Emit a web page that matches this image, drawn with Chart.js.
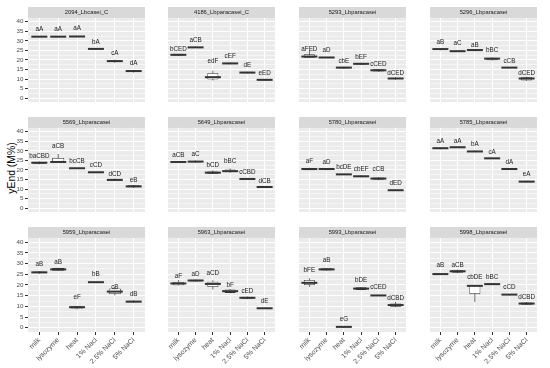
<!DOCTYPE html>
<html>
<head>
<meta charset="utf-8">
<script src="https://cdn.jsdelivr.net/npm/chart.js@4"></script>
<style>
  body { margin: 0; background: #fff; }
  #wrap { position: relative; width: 550px; height: 368px; overflow: hidden; }
  #wrap canvas { position: absolute; }
  #ytitle {
    position: absolute; left: 11px; top: 168px;
    transform: translate(-50%, -50%) rotate(-90deg);
    font: 10.4px "Liberation Sans", Arial, sans-serif; color: #000; white-space: nowrap;
  }
</style>
</head>
<body>
<div id="wrap"><div id="ytitle">yEnd (M%)</div></div>
<script>
// --- data ---
const categories = ["milk", "lysozyme", "heat", "1% Nacl", "2.5% NaCl", "5% NaCl"];
const yTicks = [0, 2.5, 5, 7.5, 10, 12.5, 15, 17.5, 20, 22.5, 25, 27.5, 30, 32.5, 35, 37.5, 40];

const panelNames = [
  "2094_Lbcasei_C", "4186_Lbparacasei_C", "5293_Lbparacasei", "5296_Lbparacasei",
  "5569_Lbparacasei", "5649_Lbparacasei", "5780_Lbparacasei", "5785_Lbparacasei",
  "5959_Lbparacasei", "5963_Lbparacasei", "5993_Lbparacasei", "5998_Lbparacasei"
];

const lows = [
  [31.9, 31.9, 31.9, 25.5, 18.6, 13.4],
  [22.0, 26.3, 9.2, 17.7, 12.9, 9.2],
  [21.0, 21.0, 15.4, 17.4, 13.8, 9.7],
  [25.1, 24.3, 24.6, 19.7, 15.7, 9.1],
  [23.0, 23.6, 20.6, 18.5, 14.3, 10.6],
  [23.9, 23.8, 17.9, 18.6, 15.0, 10.8],
  [19.8, 19.9, 17.4, 16.1, 14.6, 9.0],
  [30.9, 31.5, 29.3, 25.8, 20.2, 13.5],
  [25.3, 26.5, 8.6, 21.0, 15.2, 11.7],
  [19.7, 21.5, 17.9, 16.1, 13.3, 8.8],
  [19.1, 26.6, 0.1, 17.5, 14.8, 9.6],
  [24.8, 25.5, 12.0, 20.0, 15.2, 10.6]
];
const q1s = [
  [32.0, 32.0, 32.0, 25.6, 18.9, 13.7],
  [22.3, 26.4, 9.8, 17.9, 13.1, 9.3],
  [21.2, 21.1, 15.6, 17.6, 14.0, 10.0],
  [25.3, 24.4, 24.8, 19.9, 15.8, 9.3],
  [23.2, 23.8, 20.7, 18.6, 14.5, 10.9],
  [24.0, 23.9, 18.0, 18.8, 15.1, 10.9],
  [19.9, 20.0, 17.5, 16.3, 14.9, 9.1],
  [31.0, 31.6, 29.4, 25.9, 20.3, 13.6],
  [25.5, 26.7, 9.0, 21.1, 15.8, 11.9],
  [19.9, 21.6, 19.0, 16.3, 13.5, 8.9],
  [20.0, 26.8, 0.2, 17.7, 14.9, 9.8],
  [24.9, 25.7, 15.7, 20.1, 15.3, 10.8]
];
const medians = [
  [32.2, 32.2, 32.3, 25.8, 19.4, 14.2],
  [22.7, 26.6, 11.0, 18.2, 13.4, 9.6],
  [21.8, 21.3, 16.0, 18.0, 14.6, 10.3],
  [25.7, 24.6, 25.2, 20.7, 16.0, 10.3],
  [23.8, 24.2, 20.9, 18.8, 14.8, 11.4],
  [24.2, 24.4, 18.6, 19.4, 15.3, 11.1],
  [20.5, 20.5, 17.7, 16.7, 15.5, 9.4],
  [31.4, 31.9, 29.7, 26.1, 20.5, 13.9],
  [25.9, 27.3, 9.6, 21.3, 16.9, 12.2],
  [20.7, 22.1, 20.5, 17.1, 14.0, 9.1],
  [21.0, 27.3, 0.4, 18.3, 15.1, 10.6],
  [25.1, 26.4, 19.6, 20.4, 15.5, 11.3]
];
const q3s = [
  [32.4, 32.4, 32.6, 26.0, 19.9, 14.5],
  [23.2, 26.8, 13.2, 18.6, 13.8, 9.9],
  [23.0, 21.5, 16.5, 18.4, 15.1, 10.7],
  [26.0, 24.8, 25.5, 21.2, 16.2, 11.0],
  [24.2, 26.3, 21.1, 19.0, 15.3, 12.0],
  [24.4, 24.7, 19.2, 20.3, 15.5, 11.3],
  [21.0, 21.0, 17.9, 17.0, 16.0, 9.7],
  [31.7, 32.2, 30.0, 26.3, 20.7, 14.2],
  [26.3, 27.9, 10.0, 21.5, 18.4, 12.6],
  [21.4, 22.5, 21.5, 17.9, 14.5, 9.3],
  [22.3, 27.8, 0.6, 18.9, 15.3, 11.3],
  [25.3, 27.0, 19.9, 20.7, 15.7, 11.8]
];
const highs = [
  [32.5, 32.5, 32.7, 26.1, 20.1, 14.7],
  [23.3, 26.9, 14.3, 18.8, 13.9, 10.0],
  [24.8, 21.6, 16.6, 18.5, 15.3, 10.9],
  [26.1, 24.9, 25.7, 21.4, 16.3, 11.2],
  [24.4, 28.4, 21.2, 19.1, 15.5, 12.2],
  [24.5, 24.9, 19.9, 20.8, 15.6, 11.4],
  [21.2, 21.1, 18.0, 17.2, 16.3, 9.8],
  [31.8, 32.3, 30.1, 26.4, 20.8, 14.3],
  [26.4, 28.1, 10.2, 21.6, 19.1, 12.8],
  [22.3, 22.6, 22.2, 18.1, 14.6, 9.4],
  [23.2, 28.0, 0.7, 19.1, 15.4, 12.2],
  [25.4, 27.2, 20.0, 20.8, 15.8, 12.0]
];

// letter groups and the y value where each one sits
const letters = [
  ["aA", "aA", "aA", "bA", "cA", "dA"],
  ["bCED", "aCB", "edF", "cEF", "dE", "eED"],
  ["aFED", "aD", "cbE", "bEF", "cCED", "dCED"],
  ["aB", "aC", "aB", "bBC", "cCB", "dCED"],
  ["baCBD", "aCB", "bcCB", "cCD", "dCD", "eB"],
  ["aCB", "aC", "bCD", "bBC", "cCBD", "dCB"],
  ["aF", "aD", "bcDE", "cbEF", "cCB", "dED"],
  ["aA", "aA", "bA", "cA", "dA", "eA"],
  ["aB", "aB", "eF", "bB", "cB", "dB"],
  ["aF", "aD", "aCD", "bF", "cED", "dE"],
  ["bFE", "aB", "eG", "bDE", "cCED", "dCBD"],
  ["aB", "aCB", "cbDE", "bBC", "cCD", "dCBD"]
];
const letterY = [
  [35.9, 35.9, 36.5, 29.5, 23.5, 18.4],
  [25.8, 30.3, 19.4, 22.2, 17.3, 12.9],
  [25.7, 25.0, 19.1, 21.2, 17.9, 13.2],
  [29.5, 28.8, 27.7, 25.0, 19.4, 12.9],
  [27.3, 32.2, 24.7, 22.7, 18.0, 14.4],
  [27.5, 28.4, 22.3, 24.7, 18.9, 14.2],
  [24.7, 23.9, 21.4, 20.6, 20.6, 13.3],
  [34.8, 34.8, 33.3, 29.4, 24.1, 17.5],
  [29.8, 30.4, 14.1, 25.1, 19.1, 15.7],
  [24.0, 24.9, 25.7, 20.1, 16.9, 12.5],
  [27.1, 31.8, 3.9, 22.3, 18.8, 13.6],
  [29.0, 29.0, 23.5, 23.5, 18.8, 14.1]
];

// --- layout of the facet grid (page pixels) ---
const colLeft = [28, 158, 289, 420];
const rowTop = [18, 128, 238];
const panelW = 127;
const plotH = 94;
const stripH = 11;
const FONT = "'Liberation Sans', Arial, sans-serif";

// grey strip on top + grey panel background
const panelBg = {
  id: "panelBg",
  beforeDraw(chart) {
    const { ctx, chartArea: a } = chart;
    ctx.save();
    ctx.fillStyle = "#D9D9D9";
    ctx.fillRect(a.left, 0, a.right - a.left, a.top);
    ctx.fillStyle = "#EBEBEB";
    ctx.fillRect(a.left, a.top, a.right - a.left, a.bottom - a.top);
    ctx.restore();
  },
};

function letterPlugin(p) {
  return {
    id: "letters" + p,
    afterDatasetsDraw(chart) {
      const { ctx, scales } = chart;
      ctx.save();
      ctx.font = "6.3px " + FONT;
      ctx.fillStyle = "#1A1A1A";
      ctx.textAlign = "center";
      ctx.textBaseline = "middle";
      letters[p].forEach((txt, i) => {
        ctx.fillText(txt, scales.x.getPixelForValue(i), scales.y.getPixelForValue(letterY[p][i]));
      });
      ctx.restore();
    },
  };
}

function makePanel(p) {
  const r = Math.floor(p / 4);
  const c = p % 4;
  const yAxisW = c === 0 ? 18 : 0;
  const xAxisH = r === 2 ? 36 : 0;

  const canvas = document.createElement("canvas");
  canvas.width = panelW + yAxisW;
  canvas.height = stripH + plotH + xAxisH;
  canvas.style.left = colLeft[c] - yAxisW + "px";
  canvas.style.top = rowTop[r] - stripH + "px";
  document.getElementById("wrap").appendChild(canvas);

  const idx = categories.map((_, i) => i);

  new Chart(canvas, {
    type: "bar",
    data: {
      datasets: [
        {
          // whiskers
          data: idx.map((i) => ({ x: i, y: [lows[p][i], highs[p][i]] })),
          backgroundColor: "#333333",
          borderWidth: 0,
          barPercentage: 0.05,
          grouped: false,
          order: 3,
        },
        {
          // boxes
          data: idx.map((i) => ({ x: i, y: [q1s[p][i], q3s[p][i]] })),
          backgroundColor: "#FFFFFF",
          borderColor: "#333333",
          borderWidth: 0.8,
          borderSkipped: false,
          barPercentage: 0.8,
          grouped: false,
          order: 2,
        },
        {
          // medians
          type: "scatter",
          data: idx.map((i) => ({ x: i, y: medians[p][i] })),
          pointStyle: "line",
          pointRadius: 8,
          pointBorderWidth: 2,
          pointBorderColor: "#333333",
          order: 1,
        },
      ],
    },
    options: {
      responsive: false,
      animation: false,
      events: [],
      layout: { padding: 0 },
      plugins: {
        legend: { display: false },
        tooltip: { enabled: false },
        title: {
          display: true,
          text: panelNames[p],
          fullSize: false,
          color: "#1A1A1A",
          font: { family: FONT, size: 5.8, weight: "normal", lineHeight: 1.2 },
          padding: { top: 2, bottom: 2 },
        },
      },
      scales: {
        x: {
          type: "linear",
          min: -0.6,
          max: 5.6,
          offset: false,
          afterBuildTicks: (s) => { s.ticks = idx.map((v) => ({ value: v })); },
          afterFit: (s) => { s.height = xAxisH; },
          grid: { offset: false, color: "#FFFFFF", lineWidth: 1, drawTicks: r === 2, tickLength: 3, tickColor: "#333333", tickWidth: 1 },
          border: { display: false },
          ticks: {
            display: r === 2,
            autoSkip: false,
            minRotation: 45,
            maxRotation: 45,
            padding: 1,
            color: "#4D4D4D",
            font: { family: FONT, size: 7 },
            callback: (v) => categories[v],
          },
        },
        y: {
          min: -2,
          max: 42,
          afterBuildTicks: (s) => { s.ticks = yTicks.map((v) => ({ value: v })); },
          afterFit: (s) => { s.width = yAxisW; },
          grid: {
            color: "#FFFFFF",
            lineWidth: (ctx) => (ctx.tick && ctx.tick.value % 5 === 0 ? 1 : 0.5),
            drawTicks: c === 0,
            tickLength: 3,
            tickWidth: 1,
            tickColor: (ctx) => (ctx.tick && ctx.tick.value % 5 === 0 ? "#333333" : "rgba(0,0,0,0)"),
          },
          border: { display: false },
          ticks: {
            display: c === 0,
            autoSkip: false,
            padding: 1.5,
            color: "#4D4D4D",
            font: { family: FONT, size: 6.2 },
            callback: (v) => (v % 5 === 0 ? v : ""),
          },
        },
      },
    },
    plugins: [panelBg, letterPlugin(p)],
  });
}

panelNames.forEach((_, p) => makePanel(p));
</script>
</body>
</html>
